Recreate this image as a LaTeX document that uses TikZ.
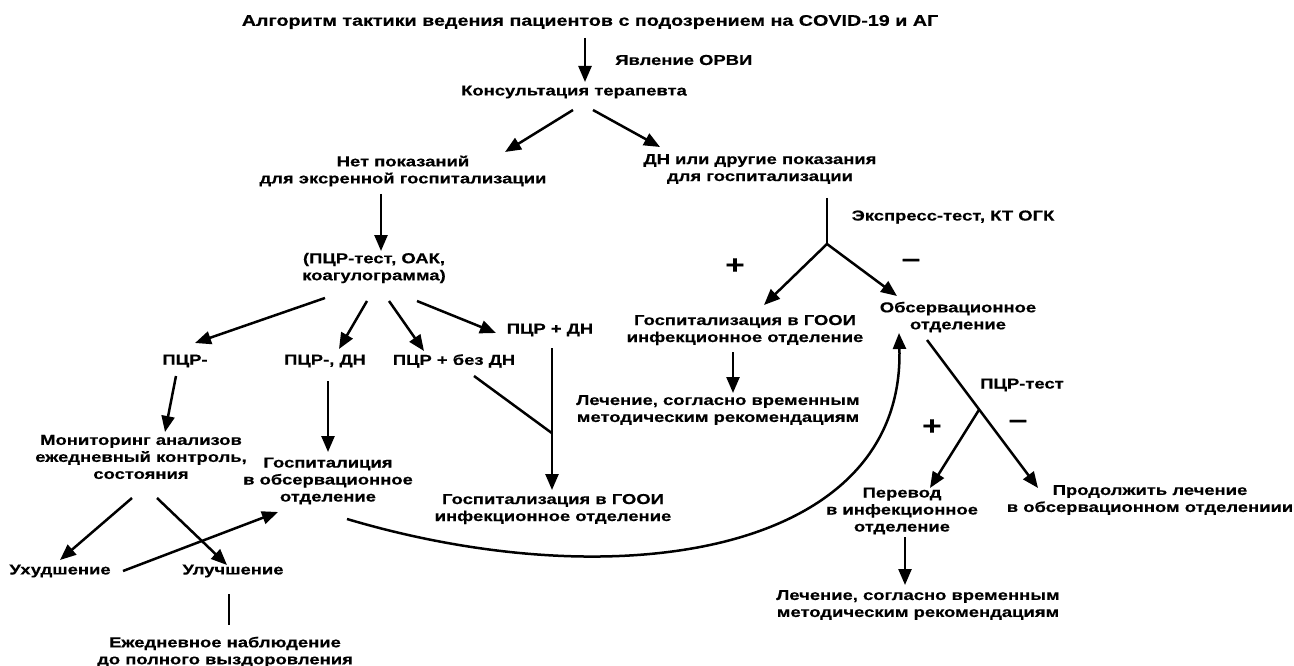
\documentclass[tikz,border=0pt]{standalone}
\usepackage{fontspec}
\setmainfont{Liberation Sans}[FakeStretch=1.28, BoldFeatures={FakeBold=0.4}]
\usetikzlibrary{arrows.meta, positioning}
\tikzstyle{txtNode} = [align=center, inner sep=1pt, font=\bfseries\fontsize{14.4}{17}\selectfont]
\tikzstyle{titleNode} = [txtNode, font=\bfseries\fontsize{15.4}{17}\selectfont]
\tikzstyle{signNode} = [inner sep=0pt, font=\bfseries\fontsize{26}{26}\selectfont]
\tikzstyle{arrow} = [line width=2.5pt,-{Triangle[length=16pt,width=13pt]},draw=black]
\tikzstyle{line} = [line width=2.5pt,draw=black]

\begin{document}
\begin{tikzpicture}[x=1pt,y=-1pt]
        \useasboundingbox (0,0) rectangle (1294,666);
        % upper part
        \node (title) [titleNode] at (590,22) {Алгоритм тактики ведения пациентов с подозрением на COVID-19 и АГ};
        \node (cons) [txtNode] at (574,92) {Консультация терапевта};
        \node (net) [txtNode] at (403,171) {Нет показаний\\для эксренной госпитализации};
        \node (dn) [txtNode] at (760,169) {ДН или другие показания\\для госпитализации};
        \node (pcrtest) [txtNode] at (374,268) {(ПЦР-тест, ОАК,\\коагулограмма)};
        % left branch
        \node (pcrneg) [txtNode] at (185,361) {ПЦР-};
        \node (pcrdn) [txtNode] at (325,361) {ПЦР-, ДН};
        \node (pcrnodn) [txtNode] at (454,361) {ПЦР + без ДН};
        \node (pcrposdn) [txtNode] at (550,330) {ПЦР + ДН};
        \node (monit) [txtNode] at (141,457) {Мониторинг анализов\\ежедневный контроль,\\состояния};
        \node (gospobs) [txtNode] at (328,481) {Госпиталиция\\в обсервационное\\отделение};
        \node (gooiA) [txtNode] at (553,509) {Госпитализация в ГООИ\\инфекционное отделение};
        \node (worse) [txtNode] at (60,571) {Ухудшение};
        \node (better) [txtNode] at (233,571) {Улучшение};
        \node (daily) [txtNode] at (225,652) {Ежедневное наблюдение\\до полного выздоровления};
        % right branch
        \node (gooiB) [txtNode] at (745,330) {Госпитализация в ГООИ\\инфекционное отделение};
        \node (obs) [txtNode] at (958,317) {Обсервационное\\отделение};
        \node (treatA) [txtNode] at (718,410) {Лечение, согласно временным\\методическим рекомендациям};
        \node (transfer) [txtNode] at (902,511) {Перевод\\в инфекционное\\отделение};
        \node (cont) [txtNode] at (1150,500) {Продолжить лечение\\в обсервационном отделениии};
        \node (treatB) [txtNode] at (918,605) {Лечение, согласно временным\\методическим рекомендациям};
        \node (express) [txtNode] at (953,217) {Экспресс-тест, КТ ОГК};
        \node (pcrlbl) [txtNode] at (1022,385) {ПЦР-тест};
        \node (plusA) [signNode] at (735,266) {+};
        \node (minusA) [signNode] at (911,263) {–};
        \node (plusB) [signNode] at (932,427) {+};
        \node (minusB) [signNode] at (1018,424) {–};
        \coordinate (jexp) at (827,244);

        \draw [arrow] ([xshift=-5pt,yshift=-16pt]title.center) -- node[txtNode, right=28pt] {Явление ОРВИ} ([xshift=11pt,yshift=10pt]cons.center);
        \draw [arrow] ([xshift=-1pt,yshift=-18pt]cons.center) -- ([xshift=102pt,yshift=19pt]net.center);
        \draw [arrow] ([xshift=19pt,yshift=-18pt]cons.center) -- ([xshift=-100pt,yshift=22pt]dn.center);
        \draw [arrow] ([xshift=-22pt,yshift=-23pt]net.center) -- ([xshift=7pt,yshift=17pt]pcrtest.center);
        \draw [arrow] ([xshift=-49pt,yshift=-30pt]pcrtest.center) -- ([xshift=10pt,yshift=18pt]pcrneg.center);
        \draw [arrow] ([xshift=-7pt,yshift=-33pt]pcrtest.center) -- ([xshift=14pt,yshift=12pt]pcrdn.center);
        \draw [arrow] ([xshift=15pt,yshift=-33pt]pcrtest.center) -- ([xshift=-30pt,yshift=10pt]pcrnodn.center);
        \draw [arrow] ([xshift=43pt,yshift=-33pt]pcrtest.center) -- ([xshift=-54pt,yshift=-3pt]pcrposdn.center);
        \draw [arrow] ([xshift=-9pt,yshift=-15pt]pcrneg.center) -- ([xshift=24pt,yshift=25pt]monit.center);
        \draw [arrow] ([xshift=3pt,yshift=-20pt]pcrdn.center) -- ([xshift=0pt,yshift=29pt]gospobs.center);
        \draw [arrow] ([xshift=2pt,yshift=-18pt]pcrposdn.center) -- coordinate[pos=0.6] (jgooi) ([xshift=-1pt,yshift=19pt]gooiA.center);
        \draw [line] ([xshift=20pt,yshift=-15pt]pcrnodn.center) -- (jgooi);
        \draw [arrow] ([xshift=-9pt,yshift=-41pt]monit.center) -- ([yshift=11pt]worse.center);
        \draw [arrow] ([xshift=16pt,yshift=-41pt]monit.center) -- ([xshift=-6pt,yshift=6pt]better.center);
        \draw [arrow] ([xshift=63pt]worse.center) -- ([xshift=-50pt,yshift=-31pt]gospobs.center);
        \draw [line] ([xshift=-4pt,yshift=-23pt]better.center) -- ([xshift=4pt,yshift=27pt]daily.center);
        \draw [arrow] ([xshift=19pt,yshift=-38pt]gospobs.center) .. controls +(273,81) and +(6,220) .. ([xshift=-59pt,yshift=-16pt]obs.center);

        \draw [line] ([xshift=67pt,yshift=-29pt]dn.center) -- (jexp);
        \draw [arrow] (jexp) -- ([xshift=19pt,yshift=25pt]gooiB.center);
        \draw [arrow] (jexp) -- ([xshift=-61pt,yshift=21pt]obs.center);
        \draw [arrow] ([xshift=-12pt,yshift=-22pt]gooiB.center) -- ([xshift=15pt,yshift=17pt]treatA.center);
        \draw [arrow] ([xshift=-31pt,yshift=-23pt]obs.center) -- coordinate[pos=0.47] (jpcr) ([xshift=-112pt,yshift=12pt]cont.center);
        \draw [arrow] (jpcr) -- ([xshift=28pt,yshift=23pt]transfer.center);
        \draw [arrow] ([xshift=3pt,yshift=-26pt]transfer.center) -- ([xshift=-13pt,yshift=20pt]treatB.center);
    \end{tikzpicture}
\end{document}
